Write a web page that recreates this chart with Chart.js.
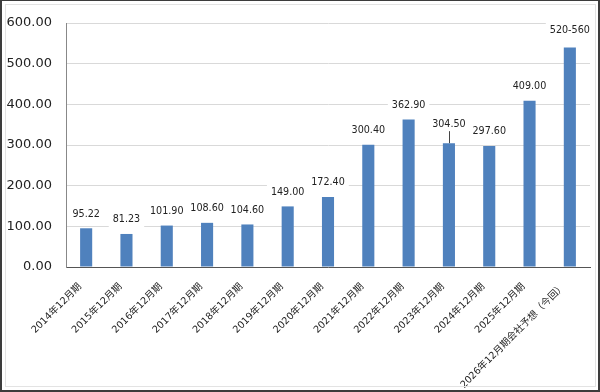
<!DOCTYPE html>
<html>
<head>
<meta charset="utf-8">
<script src="https://cdn.jsdelivr.net/npm/chart.js@4"></script>
<style>
  html, body { margin: 0; padding: 0; background: #fff; }
  #wrap { width: 600px; height: 392px; position: relative; }
</style>
</head>
<body>
<div id="wrap"><canvas id="chart" width="600" height="392"></canvas></div>
<script>
// 決算期
const periods = [
    '2014年12月期', '2015年12月期', '2016年12月期', '2017年12月期', '2018年12月期',
    '2019年12月期', '2020年12月期', '2021年12月期', '2022年12月期', '2023年12月期',
    '2024年12月期', '2025年12月期', '2026年12月期会社予想（今回）'
];
// bar heights
const values = [95.22, 81.23, 101.90, 108.60, 104.60, 149.00, 172.40, 300.40, 362.90, 304.50, 297.60, 409.00, 540];
// text shown above each bar
const valueLabels = ['95.22', '81.23', '101.90', '108.60', '104.60', '149.00', '172.40', '300.40', '362.90', '304.50', '297.60', '409.00', '520-560'];
const yTicks = [0, 100, 200, 300, 400, 500, 600];

const barColor = '#4f81bd';

// simple data label plugin (no datalabels lib available offline)
const valueLabelPlugin = {
    id: 'valueLabels',
    afterDatasetsDraw(chart) {
        const ctx = chart.ctx;
        const meta = chart.getDatasetMeta(0);
        ctx.save();
        ctx.font = '9.6px "DejaVu Sans"';
        ctx.textAlign = 'center';
        ctx.textBaseline = 'middle';
        meta.data.forEach((bar, i) => {
            let lift = 14;
            if (i === 9) lift = 19;   // 2023 label pushed up, with leader line
            if (i === 12) lift = 17;
            const y = bar.y - lift;
            const w = ctx.measureText(valueLabels[i]).width;
            // white label box hides the gridline behind the text
            ctx.fillStyle = '#fff';
            ctx.fillRect(bar.x - w / 2 - 4, y - 8, w + 8, 16);
            ctx.fillStyle = '#222';
            ctx.fillText(valueLabels[i], bar.x, y);
            if (i === 9) {
                ctx.strokeStyle = '#444';
                ctx.lineWidth = 1;
                ctx.beginPath();
                ctx.moveTo(Math.round(bar.x) + 0.5, y + 7);
                ctx.lineTo(Math.round(bar.x) + 0.5, bar.y);
                ctx.stroke();
            }
        });
        ctx.restore();
    },
    afterDraw(chart) {
        const ctx = chart.ctx;
        ctx.save();
        // inner light frame
        ctx.strokeStyle = '#e3e3e3';
        ctx.lineWidth = 1;
        ctx.strokeRect(5.5, 4.5, 590, 382);
        // outer dark frame
        ctx.strokeStyle = '#3c3c3c';
        ctx.lineWidth = 2;
        ctx.strokeRect(1, 0, 598, 391);
        ctx.restore();
    }
};

new Chart(document.getElementById('chart'), {
    type: 'bar',
    data: {
        labels: periods,
        datasets: [{
            data: values,
            backgroundColor: barColor,
            barPercentage: 0.3,
            categoryPercentage: 1.0
        }]
    },
    options: {
        responsive: false,
        animation: false,
        layout: { padding: { top: 23, right: 10, left: 0, bottom: 0 } },
        plugins: {
            legend: { display: false },
            tooltip: { enabled: false }
        },
        scales: {
            x: {
                grid: { display: false, drawTicks: false },
                border: { color: '#555', width: 1 },
                ticks: {
                    minRotation: 45,
                    maxRotation: 45,
                    autoSkip: false,
                    padding: 14,
                    labelOffset: -6,
                    color: '#222',
                    font: { family: '"DejaVu Sans", "Noto Sans CJK JP"', size: 9.7 }
                },
                afterFit: (scale) => { scale.height = 125; }
            },
            y: {
                min: 0,
                max: 600,
                afterBuildTicks: (scale) => { scale.ticks = yTicks.map(v => ({ value: v })); },
                grid: { color: '#d9d9d9', drawTicks: false },
                border: { color: '#888', width: 1 },
                ticks: {
                    padding: 14,
                    color: '#222',
                    font: { family: '"DejaVu Sans"', size: 13 },
                    callback: (value) => value.toFixed(2)
                },
                afterFit: (scale) => { scale.width = 66; }
            }
        }
    },
    plugins: [valueLabelPlugin]
});
</script>
</body>
</html>
